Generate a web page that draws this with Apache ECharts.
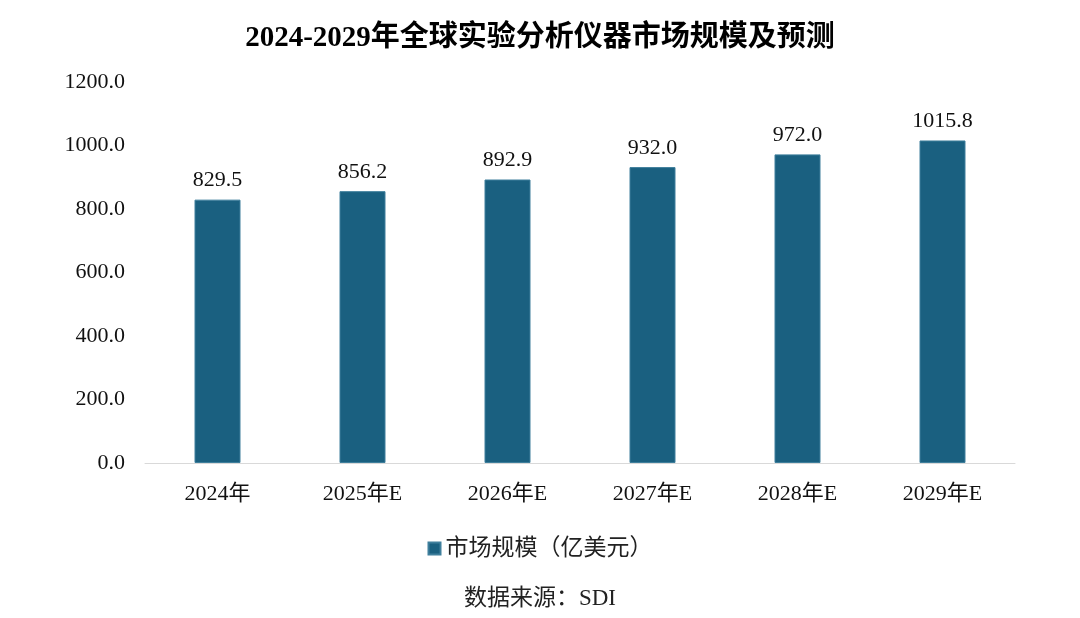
<!DOCTYPE html>
<html><head><meta charset="utf-8">
<script src="https://cdn.jsdelivr.net/npm/echarts@6/dist/echarts.min.js"></script>
<style>html,body{margin:0;padding:0;background:#fff}#c{width:1080px;height:618px}</style>
</head><body><div id="c"></div>
<script>
const categories = ['2024年','2025年E','2026年E','2027年E','2028年E','2029年E'];
const marketSize = [829.5, 856.2, 892.9, 932.0, 972.0, 1015.8];
const seriesName = '市场规模（亿美元）';
const titleText = '2024-2029年全球实验分析仪器市场规模及预测';
const sourceText = '数据来源：SDI';
const FONT = '"Liberation Serif", "Times New Roman", "Noto Sans CJK SC", serif';
const chart = echarts.init(document.getElementById('c'));
chart.setOption({
  animation: false,
  title: { text: titleText, left: 'center', top: 19,
    textStyle: { fontFamily: FONT, fontSize: 29, fontWeight: 'bold', color: '#000' } },
  legend: { top: 532, left: 'center', itemWidth: 12, itemHeight: 12, icon: 'rect', itemGap: 6,
    textStyle: { fontFamily: FONT, fontSize: 23, color: '#222' }, data: [seriesName] },
  graphic: [{ type: 'text', left: 'center', top: 587,
    style: { text: sourceText, font: '23px ' + FONT, fill: '#222' } }],
  grid: { left: 145, right: 65, top: 82, bottom: 155 },
  xAxis: { type: 'category', data: categories,
    axisLine: { lineStyle: { color: '#d9d9d9', width: 1 } }, axisTick: { show: false },
    axisLabel: { fontFamily: FONT, fontSize: 22, color: '#111', margin: 20 } },
  yAxis: { type: 'value', min: 0, max: 1200, interval: 200,
    axisLine: { show: false }, axisTick: { show: false }, splitLine: { show: false },
    axisLabel: { fontFamily: FONT, fontSize: 22, color: '#111', margin: 20,
      formatter: v => v.toFixed(1) } },
  series: [{ name: seriesName, type: 'bar', data: marketSize, barWidth: 46,
    itemStyle: { color: '#1a6080', borderColor: '#3f7f9c', borderWidth: 1 },
    label: { show: true, position: 'top', distance: 8, fontFamily: FONT, fontSize: 22, color: '#111',
      formatter: p => p.value.toFixed(1) } }]
});
</script></body></html>
